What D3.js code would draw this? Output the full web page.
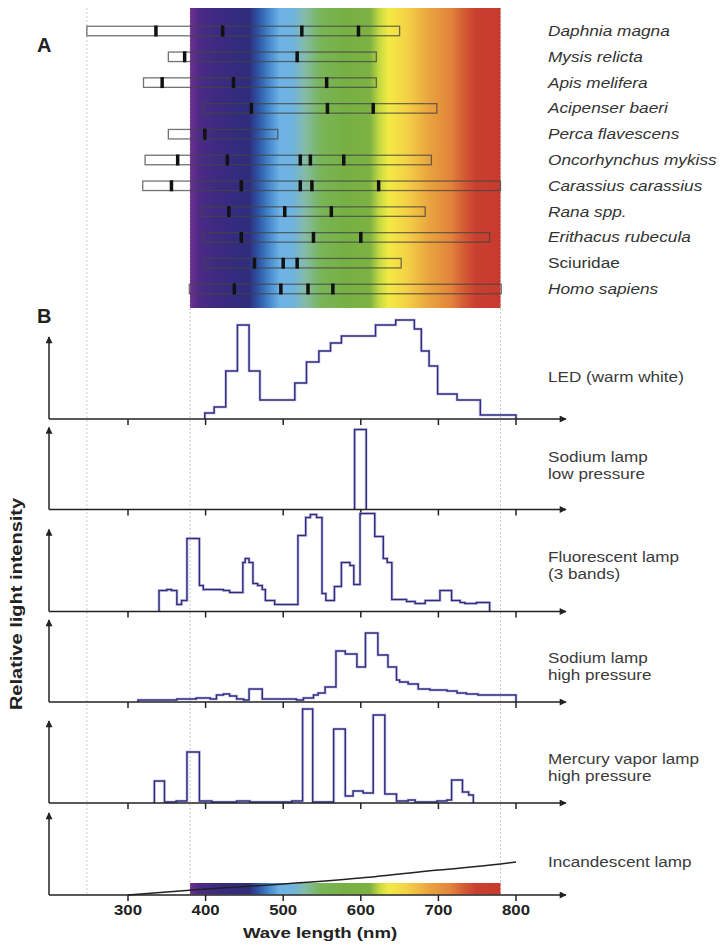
<!DOCTYPE html>
<html>
<head>
<meta charset="utf-8">
<script src="https://cdn.jsdelivr.net/npm/d3@7"></script>
<style>
  body { margin: 0; background: #fff; }
  svg { display: block; }
  text { font-family: "Liberation Sans", Arial, sans-serif; }
</style>
</head>
<body>
<div id="chart"></div>
<script>
// ---- data (wavelengths in nm) ----
const species = ["Daphnia magna", "Mysis relicta", "Apis melifera", "Acipenser baeri",
  "Perca flavescens", "Oncorhynchus mykiss", "Carassius carassius", "Rana spp.",
  "Erithacus rubecula", "Sciuridae", "Homo sapiens"];
const italicName = [true, true, true, true, true, true, true, true, true, false, true];
const sensStart = [247, 352, 320, 397, 352, 322, 319, 395, 397, 398, 379];
const sensEnd   = [650, 620, 620, 698, 493, 691, 780, 683, 766, 652, 781];
const peaks = [
  [336, 422, 524, 597],
  [373, 518],
  [344, 436, 556],
  [459, 557, 616],
  [399],
  [364, 428, 522, 535, 578],
  [356, 446, 522, 537, 623],
  [430, 502, 562],
  [446, 539, 600],
  [463, 500, 518],
  [437, 497, 532, 564]
];

const lampNames = [["LED (warm white)"], ["Sodium lamp", "low pressure"],
  ["Fluorescent lamp", "(3 bands)"], ["Sodium lamp", "high pressure"],
  ["Mercury vapor lamp", "high pressure"], ["Incandescent lamp"]];

// step spectra: [nm, relative level]
const ledSpectrum = [[399,0],[399,0.06],[411,0.12],[426,0.48],[441,0.94],[456,0.48],[470,0.19],
  [515,0.36],[530,0.57],[546,0.68],[561,0.76],[575,0.83],[619,0.94],[645,0.99],[669,0.90],
  [678,0.68],[688,0.53],[699,0.25],[724,0.19],[754,0.04],[800,0]];
const sodiumLowSpectrum = [[592,0],[592,0.80],[607,0]];
const fluorescentSpectrum = [[340,0],[340,0.21],[350,0.22],[356,0.21],[363,0.07],[369,0.11],
  [376,0.73],[392,0.26],[397,0.22],[423,0.21],[431,0.19],[448,0.49],[451,0.53],[456,0.49],
  [461,0.28],[467,0.26],[473,0.22],[477,0.11],[489,0.07],[519,0.76],[529,0.94],[535,0.97],
  [543,0.94],[550,0.18],[555,0.11],[566,0.25],[575,0.49],[586,0.46],[591,0.27],[599,0.98],
  [618,0.75],[629,0.53],[634,0.49],[640,0.12],[659,0.10],[670,0.08],[683,0.11],[702,0.21],
  [717,0.11],[728,0.09],[734,0.08],[749,0.09],[766,0]];
const sodiumHighSpectrum = [[313,0],[313,0.02],[363,0.03],[388,0.04],[406,0.03],[414,0.07],
  [423,0.08],[431,0.06],[440,0.03],[449,0.02],[456,0.13],[473,0.03],[517,0.02],[526,0.04],
  [539,0.07],[545,0.09],[554,0.15],[568,0.51],[580,0.48],[595,0.35],[606,0.69],[622,0.47],
  [635,0.35],[646,0.22],[650,0.20],[661,0.18],[674,0.13],[689,0.12],[711,0.11],[724,0.09],
  [736,0.08],[751,0.07],[800,0]];
const mercurySpectrum = [[334,0],[334,0.22],[347,0.01],[362,0.02],[376,0.51],[392,0.02],
  [408,0.01],[440,0.02],[457,0.01],[511,0.02],[525,0.94],[538,0.01],[565,0.74],[580,0.07],
  [590,0.12],[603,0.10],[616,0.88],[631,0.09],[646,0.02],[661,0.03],[670,0.01],[698,0.02],
  [711,0.03],[717,0.23],[731,0.11],[739,0.08],[745,0]];
const incandescentSpectrum = [[300,0],[400,0.06],[500,0.11],[600,0.17],[700,0.25],[780,0.31],[800,0.33]];

const tickValues = [300, 400, 500, 600, 700, 800];
const refLines = [247, 380, 780];
const visibleRange = [380, 780];
const spectrumStops = [
  [0, "#6f2f8f"], [0.03, "#4a2a85"], [0.1, "#3a2a80"], [0.19, "#2e2d7c"], [0.22, "#2d55a5"],
  [0.26, "#4a8fd0"], [0.29, "#6fb3e6"], [0.33, "#6fb3e0"], [0.37, "#84bba8"], [0.42, "#79b558"],
  [0.5, "#76b043"], [0.58, "#7db243"], [0.61, "#c6da42"], [0.64, "#f3ea44"], [0.7, "#f4d046"],
  [0.77, "#e9a43f"], [0.84, "#e2843b"], [0.88, "#d55d35"], [0.92, "#c9402f"], [1, "#c83a2e"]
];

// ---- layout ----
const W = 724, H = 946;
const svg = d3.select("#chart").append("svg")
  .attr("width", W).attr("height", H)
  .attr("xmlns", "http://www.w3.org/2000/svg");

const x = d3.scaleLinear().domain([300, 800]).range([128, 516]);
const yRow = d3.scalePoint().domain(species).range([31, 289]);
const panelBase = [419, 509.5, 611.5, 702, 803, 895];
const labelY = [382, 462, 562, 663, 764, 867];
const axisLeft = 49, axisRight = 566, axisH = 82;

const defs = svg.append("defs");
const grad = defs.append("linearGradient").attr("id", "spec")
  .attr("x1", "0%").attr("x2", "100%").attr("y1", "0%").attr("y2", "0%");
grad.selectAll("stop").data(spectrumStops).join("stop")
  .attr("offset", d => d[0]).attr("stop-color", d => d[1]);
defs.append("marker").attr("id", "arrow")
  .attr("viewBox", "0 0 10 10").attr("refX", 9).attr("refY", 5)
  .attr("markerUnits", "userSpaceOnUse")
  .attr("markerWidth", 8).attr("markerHeight", 7).attr("orient", "auto")
  .append("path").attr("d", "M0,0L10,5L0,10Z").attr("fill", "#222");

function wideText(g, str, tx, ty, sx) {
  return g.append("text").attr("transform", `translate(${tx},${ty}) scale(${sx},1)`).text(str);
}

// dotted reference lines
svg.selectAll(".ref").data(refLines).join("line")
  .attr("x1", d => x(d)).attr("x2", d => x(d))
  .attr("y1", 8).attr("y2", 895)
  .attr("stroke", "#c8c8c8").attr("stroke-width", 1).attr("stroke-dasharray", "2,2");

// ---- panel A ----
svg.append("rect")
  .attr("x", x(visibleRange[0])).attr("width", x(visibleRange[1]) - x(visibleRange[0]))
  .attr("y", 8).attr("height", 300).attr("fill", "url(#spec)");

const rows = svg.append("g").selectAll("g").data(species).join("g");
rows.append("rect")
  .attr("x", (d, i) => x(sensStart[i]))
  .attr("width", (d, i) => x(sensEnd[i]) - x(sensStart[i]))
  .attr("y", d => yRow(d) - 4.75).attr("height", 9.5)
  .attr("fill", "none").attr("stroke", "#444").attr("stroke-opacity", 0.75).attr("stroke-width", 1.3);
rows.each(function(d, i) {
  d3.select(this).selectAll(".pk").data(peaks[i]).join("rect")
    .attr("x", p => x(p) - 1.75).attr("width", 3.5)
    .attr("y", yRow(d) - 5.5).attr("height", 11)
    .attr("fill", "#111");
});
rows.each(function(d, i) {
  wideText(d3.select(this), d, 548, yRow(d) + 5, 1.15)
    .attr("font-size", 15).attr("fill", "#333")
    .attr("font-style", italicName[i] ? "italic" : "normal");
});

svg.append("text").attr("x", 37).attr("y", 52).attr("font-size", 20)
  .attr("font-weight", "bold").attr("fill", "#222").text("A");
svg.append("text").attr("x", 37).attr("y", 323).attr("font-size", 20)
  .attr("font-weight", "bold").attr("fill", "#222").text("B");

// ---- panel B ----
const spectra = [ledSpectrum, sodiumLowSpectrum, fluorescentSpectrum,
  sodiumHighSpectrum, mercurySpectrum, incandescentSpectrum];

spectra.forEach((data, i) => {
  const base = panelBase[i];
  const y = d3.scaleLinear().domain([0, 1]).range([base, base - 100]);
  const g = svg.append("g");

  if (i === 5) {
    g.append("rect")
      .attr("x", x(visibleRange[0])).attr("width", x(visibleRange[1]) - x(visibleRange[0]))
      .attr("y", base - 12).attr("height", 11.5).attr("fill", "url(#spec)");
    g.append("path").datum(data)
      .attr("d", d3.line().curve(d3.curveMonotoneX).x(d => x(d[0])).y(d => y(d[1])))
      .attr("fill", "none").attr("stroke", "#222").attr("stroke-width", 1.5);
  } else {
    const line = d3.line().curve(d3.curveStepAfter).x(d => x(d[0])).y(d => y(d[1]));
    g.append("path").datum(data).attr("d", line)
      .attr("fill", "none").attr("stroke", "#bdb9e0").attr("stroke-width", 3.2).attr("stroke-opacity", 0.6);
    g.append("path").datum(data).attr("d", line)
      .attr("fill", "none").attr("stroke", "#2e2b80").attr("stroke-width", 1.5);
  }

  // axes
  g.append("line").attr("x1", axisLeft).attr("x2", axisLeft)
    .attr("y1", base).attr("y2", base - axisH)
    .attr("stroke", "#222").attr("stroke-width", 1.5).attr("marker-end", "url(#arrow)");
  g.append("line").attr("x1", axisLeft).attr("x2", axisRight)
    .attr("y1", base).attr("y2", base)
    .attr("stroke", "#222").attr("stroke-width", 1.5).attr("marker-end", "url(#arrow)");
  g.selectAll(".tk").data(tickValues).join("line")
    .attr("x1", d => x(d)).attr("x2", d => x(d))
    .attr("y1", base).attr("y2", base + 6)
    .attr("stroke", "#222").attr("stroke-width", 1.5);

  lampNames[i].forEach((t, k) => {
    wideText(g, t, 548, labelY[i] + k * 16.5, 1.14)
      .attr("font-size", 15).attr("fill", "#3a3a3a");
  });

  if (i === 5) {
    tickValues.forEach(t => {
      wideText(g, t, x(t), 915, 1.2).attr("font-size", 14).attr("font-weight", "bold")
        .attr("fill", "#222").attr("text-anchor", "middle");
    });
  }
});

wideText(svg, "Wave length (nm)", 320, 938, 1.2)
  .attr("font-size", 15.5).attr("font-weight", "bold").attr("fill", "#222")
  .attr("text-anchor", "middle");

svg.append("text")
  .attr("transform", "translate(22,604) rotate(-90) scale(1.25,1)")
  .attr("font-size", 16).attr("font-weight", "bold").attr("fill", "#222")
  .attr("text-anchor", "middle").text("Relative light intensity");
</script>
</body>
</html>
